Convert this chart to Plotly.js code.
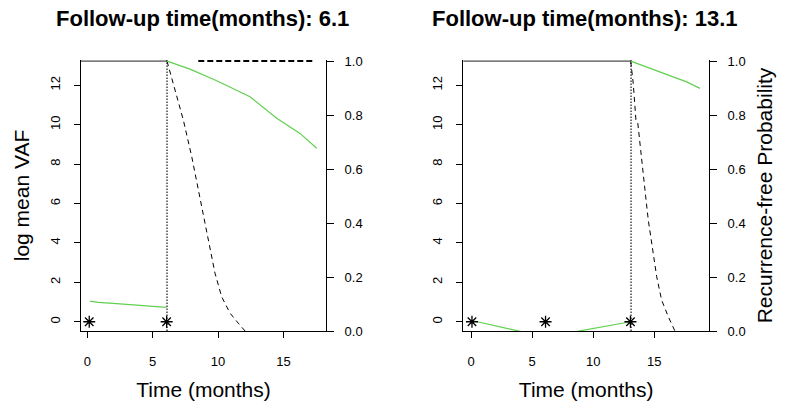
<!DOCTYPE html>
<html>
<head>
<meta charset="utf-8">
<script src="https://cdn.plot.ly/plotly-3.0.1.min.js"></script>
<style>html,body{margin:0;padding:0;background:#fff;}#chart{width:785px;height:404px;}</style>
</head>
<body>
<div id="chart"></div>
<script>
// ---------- Data ----------
const panelTitles = ["Follow-up time(months): 6.1", "Follow-up time(months): 13.1"];
const followUp = [6.1, 13.1];

// Panel A (follow-up 6.1)
const sampleTimeA = [0.15, 6.07];
const sampleVafA = [0, 0];
const vafTimeA = [0.2, 0.84, 1.99, 3.14, 4.29, 5.43, 6.07];
const vafA = [1.05, 0.98, 0.93, 0.88, 0.81, 0.76, 0.73];
const survTimeA = [-0.5, 6.1];
const survProbA = [1, 1];
const predTimeA = [6.1, 6.58, 7.35, 7.99, 8.62, 9.26, 9.77, 10.28, 10.92, 11.55, 12.07];
const predProbA = [1.0, 0.917, 0.781, 0.646, 0.497, 0.337, 0.214, 0.127, 0.066, 0.029, 0.0];
const upperTimeA = [8.49, 17.42];
const upperProbA = [1, 1];
const greenTimeA = [6.1, 7.86, 9.90, 12.45, 14.49, 16.27, 17.55];
const greenProbA = [1.0, 0.970, 0.927, 0.868, 0.788, 0.732, 0.677];

// Panel B (follow-up 13.1)
const sampleTimeB = [0.08, 6.1, 13.05];
const sampleVafB = [0, 0, 0];
const vafTimeB = [0.15, 6.1, 13.05];
const vafB = [0.05, -0.78, 0.0];
const survTimeB = [-0.7, 13.1];
const survProbB = [1, 1];
const predTimeB = [13.07, 13.28, 13.50, 13.64, 13.89, 14.10, 14.30, 14.51, 14.79, 15.20, 15.60, 16.15, 16.69];
const predProbB = [1.0, 0.917, 0.781, 0.775, 0.670, 0.571, 0.497, 0.411, 0.325, 0.201, 0.115, 0.053, 0.0];
const greenTimeB = [13.07, 14.65, 16.28, 17.65, 18.74];
const greenProbB = [1.0, 0.973, 0.948, 0.923, 0.899];

const xTicks = [0, 5, 10, 15];
const vafTicks = [0, 2, 4, 6, 8, 10, 12];
const probTicks = [0, 0.2, 0.4, 0.6, 0.8, 1.0];
const probTickText = ["0.0", "0.2", "0.4", "0.6", "0.8", "1.0"];

// ---------- Styles ----------
const GREEN = "#61D04F";
const FONT = "Liberation Sans, Arial, Helvetica, sans-serif";

function panelTraces(xa, yv, yp, d) {
  return [
    {x: d.survT, y: d.survP, xaxis: xa, yaxis: yp, mode: "lines", line: {color: "#222", width: 1}, hoverinfo: "skip"},
    {x: [d.fu, d.fu], y: [0, 1.004], xaxis: xa, yaxis: yp, mode: "lines", line: {color: "#000", width: 1.1, dash: "1.5px,1.5px"}},
    {x: d.vafT, y: d.vaf, xaxis: xa, yaxis: yv, mode: "lines", line: {color: GREEN, width: 1.2}},
    {x: d.predT, y: d.predP, xaxis: xa, yaxis: yp, mode: "lines", line: {color: "#000", width: 1, dash: "5px,4px"}},
    {x: d.greenT, y: d.greenP, xaxis: xa, yaxis: yp, mode: "lines", line: {color: GREEN, width: 1.2}},
    {x: d.sT, y: d.sV, xaxis: xa, yaxis: yv, mode: "markers", marker: {symbol: "asterisk-open", size: 10, color: "#000", line: {color: "#000", width: 1.3}}}
  ];
}

let traces = panelTraces("x", "y", "y2", {
  survT: survTimeA, survP: survProbA, fu: followUp[0], vafT: vafTimeA, vaf: vafA,
  predT: predTimeA, predP: predProbA, greenT: greenTimeA, greenP: greenProbA,
  sT: sampleTimeA, sV: sampleVafA
});
traces.push({x: upperTimeA, y: upperProbA, xaxis: "x", yaxis: "y2", mode: "lines", line: {color: "#000", width: 2, dash: "6px,3px"}});
traces = traces.concat(panelTraces("x2", "y3", "y4", {
  survT: survTimeB, survP: survProbB, fu: followUp[1], vafT: vafTimeB, vaf: vafB,
  predT: predTimeB, predP: predProbB, greenT: greenTimeB, greenP: greenProbB,
  sT: sampleTimeB, sV: sampleVafB
}));

const W = 785, H = 404;
const yDom = [1 - 331 / H, 1 - 60 / H];
const tickFont = {family: FONT, size: 13, color: "#000"};
const titleFont = {family: FONT, size: 21, color: "#000"};

function xAxis(dom, range, anchor) {
  return {
    domain: dom, range: range, anchor: anchor, tickvals: xTicks, ticks: "outside", ticklen: 6,
    tickcolor: "#000", showline: true, linecolor: "#000", linewidth: 1, showgrid: false, zeroline: false,
    tickfont: tickFont, ticklabelstandoff: 12,
    title: {text: "Time (months)", font: titleFont, standoff: 14}
  };
}
function vafAxis(anchor, title) {
  return {
    domain: yDom, range: [-0.47, 13.28], anchor: anchor, tickvals: vafTicks, ticks: "outside", ticklen: 6,
    tickcolor: "#000", showline: true, linecolor: "#000", linewidth: 1, showgrid: false, zeroline: false,
    tickfont: tickFont, tickangle: -90, ticklabelstandoff: 9,
    title: title ? {text: title, font: titleFont, standoff: 12} : {text: ""}
  };
}
function probAxis(anchor, overlay, title) {
  return {
    overlaying: overlay, side: "right", range: [0, 1.004], anchor: anchor, tickvals: probTicks, ticktext: probTickText,
    ticks: "outside", ticklen: 7, tickcolor: "#000", showline: true, linecolor: "#000", linewidth: 1,
    showgrid: false, zeroline: false, tickfont: tickFont, ticklabelstandoff: 8,
    title: title ? {text: title, font: titleFont, standoff: 12} : {text: ""}
  };
}

const layout = {
  width: W, height: H, margin: {l: 0, r: 0, t: 0, b: 0},
  paper_bgcolor: "#fff", plot_bgcolor: "rgba(0,0,0,0)", showlegend: false,
  font: {family: FONT, color: "#000"},
  xaxis: xAxis([81 / W, 326 / W], [-0.48, 18.26], "y"),
  yaxis: vafAxis("x", "log mean VAF"),
  yaxis2: probAxis("x", "y", null),
  xaxis2: xAxis([463.3 / W, 709 / W], [-0.63, 19.48], "y3"),
  yaxis3: vafAxis("x2", null),
  yaxis4: probAxis("x2", "y3", "Recurrence-free Probability"),
  annotations: [
    {text: "<b>" + panelTitles[0] + "</b>", xref: "paper", yref: "paper", x: 202 / W, y: 1 - 18 / H,
     xanchor: "center", yanchor: "middle", showarrow: false, font: {family: FONT, size: 22, color: "#000"}},
    {text: "<b>" + panelTitles[1] + "</b>", xref: "paper", yref: "paper", x: 585 / W, y: 1 - 18 / H,
     xanchor: "center", yanchor: "middle", showarrow: false, font: {family: FONT, size: 22, color: "#000"}}
  ]
};

Plotly.newPlot("chart", traces, layout, {staticPlot: true, displayModeBar: false});
</script>
</body>
</html>
